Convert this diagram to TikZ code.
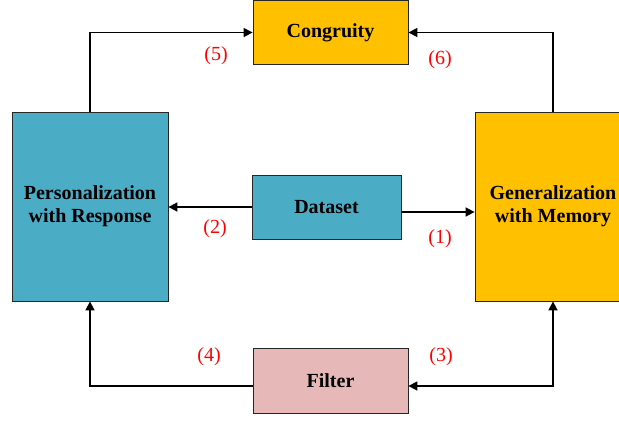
\documentclass[tikz,border=0pt]{standalone}
\usepackage{fontspec}
\setmainfont{Liberation Serif}
\usepackage{tikz}
\usetikzlibrary{arrows.meta}

\definecolor{aqua}{HTML}{4BACC6}
\definecolor{gold}{HTML}{FFC000}
\definecolor{rose}{HTML}{E6B9B8}

\begin{document}
\begin{tikzpicture}[x=1pt, y=-1pt,
    box/.style={draw=black!85, line width=0.8pt, rectangle, align=center,
      font=\fontsize{20}{23}\selectfont\bfseries, inner sep=0pt},
    num/.style={text=red, font=\fontsize{20}{23}\selectfont},
    flow/.style={line width=1.6pt, -{Triangle[length=9pt,width=9pt]}}]
    \useasboundingbox (0,0) rectangle (619,421);

    \node[box, fill=gold, minimum width=155pt, minimum height=64pt] (cong) at (330.5, 32.5) {Congruity};
    \node[box, fill=aqua, minimum width=156pt, minimum height=189pt] (pers) at (90, 206.5) {Personalization\\with Response};
    \node[box, fill=gold, minimum width=156pt, minimum height=189pt] (gen) at (553, 206.5) {Generalization\\with Memory};
    \node[box, fill=aqua, minimum width=149pt, minimum height=64pt] (data) at (326.5, 207) {Dataset};
    \node[box, fill=rose, minimum width=155pt, minimum height=65pt] (filt) at (330.5, 380.5) {Filter};

    % numbered steps
    \node[num] (n1) at (440, 239) {(1)};
    \node[num] (n2) at (215, 229) {(2)};
    \node[num] (n3) at (441, 357) {(3)};
    \node[num] (n4) at (209, 357) {(4)};
    \node[num] (n5) at (216, 56) {(5)};
    \node[num] (n6) at (440, 60) {(6)};

    \draw[flow] ([yshift=-5pt]data.east) -- ([yshift=-5pt]data.east -| gen.west);
    \draw[flow] (data.west) -- (data.west -| pers.east);
    \draw[flow, {Triangle[length=9pt,width=9pt]}-{Triangle[length=9pt,width=9pt]}] (gen.south) |- ([yshift=-5.5pt]filt.east);
    \draw[flow] ([yshift=-5.5pt]filt.west) -| (pers.south);
    \draw[flow] (pers.north) |- (cong.west);
    \draw[flow] (gen.north) |- (cong.east);
\end{tikzpicture}
\end{document}
